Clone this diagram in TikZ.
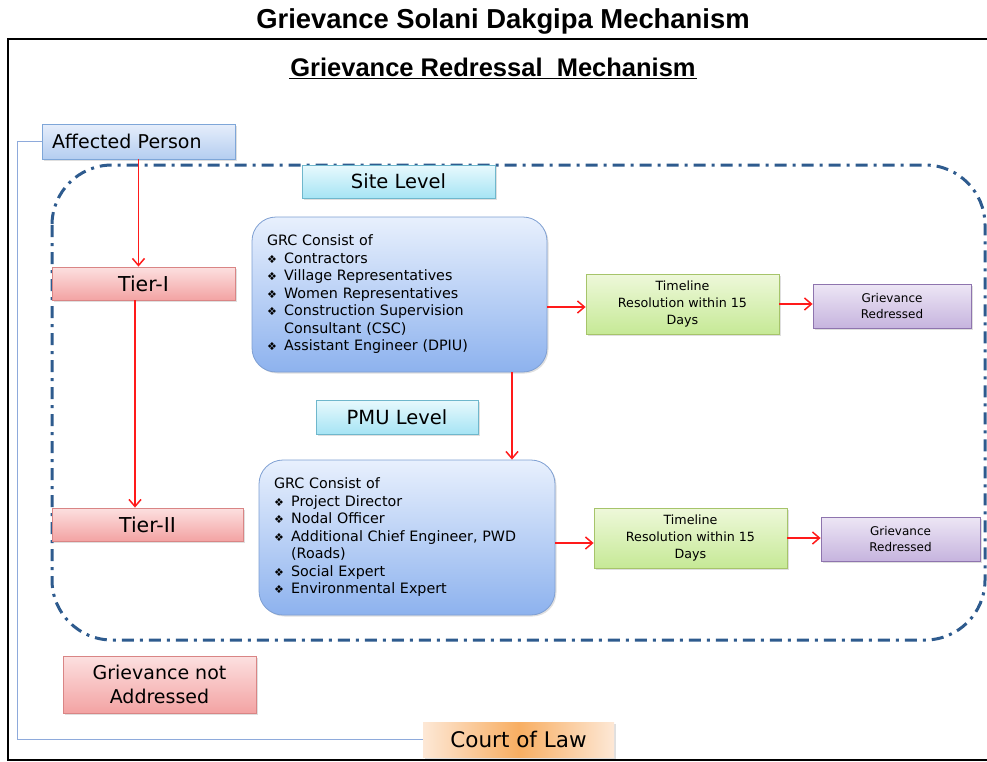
\documentclass[tikz,border=0pt]{standalone}
\usepackage{fontspec}
\setmainfont{DejaVu Sans}
\newfontfamily\headfont{Liberation Sans}
\usepackage{tikz}
\usetikzlibrary{arrows.meta,shadows}

\definecolor{zoneblue}{HTML}{2E5B8E}
\definecolor{linkblue}{HTML}{8EAADB}
\definecolor{apline}{HTML}{7EA6D8}
\definecolor{aptop}{HTML}{E6EEFB}
\definecolor{apbot}{HTML}{B4CDF0}
\definecolor{tierline}{HTML}{D98585}
\definecolor{tiertop}{HTML}{FCE0E0}
\definecolor{tierbot}{HTML}{F3A3A3}
\definecolor{levline}{HTML}{6FB7CC}
\definecolor{levtop}{HTML}{E8F9FD}
\definecolor{levbot}{HTML}{A6E4F4}
\definecolor{grcline}{HTML}{7E9FD2}
\definecolor{grctop}{HTML}{E8F0FD}
\definecolor{grcbot}{HTML}{8DB2EE}
\definecolor{timeline}{HTML}{A6C46A}
\definecolor{timetop}{HTML}{EEF8DA}
\definecolor{timebot}{HTML}{C6E996}
\definecolor{redline}{HTML}{8E74AE}
\definecolor{redtop}{HTML}{EDE6F5}
\definecolor{redbot}{HTML}{C6B4DE}
\definecolor{courtmid}{HTML}{F8AE62}
\definecolor{courtside}{HTML}{FDE8D6}
\definecolor{flowred}{HTML}{FF1A1A}

\newcommand{\bul}{\makebox[1.2em][l]{\fontsize{11}{11}\selectfont\char"2756}}

\tikzset{
  box/.style={draw, line width=0.8pt, inner sep=2pt, align=center,
    drop shadow={shadow xshift=1.5pt, shadow yshift=-1.5pt, opacity=0.25}},
  apbox/.style={box, draw=apline, top color=aptop, bottom color=apbot,
    font=\fontsize{19}{22}\selectfont},
  tierbox/.style={box, draw=tierline, top color=tiertop, bottom color=tierbot,
    font=\fontsize{20.5}{23}\selectfont},
  levelbox/.style={box, draw=levline, top color=levtop, bottom color=levbot,
    font=\fontsize{19.5}{22}\selectfont},
  grcbox/.style={box, draw=grcline, top color=grctop, bottom color=grcbot,
    rounded corners=24pt, align=left, inner xsep=15pt,
    minimum height=155pt, font=\fontsize{14.3}{17.5}\selectfont},
  timebox/.style={box, draw=timeline, top color=timetop, bottom color=timebot,
    minimum width=193pt, minimum height=60pt, font=\fontsize{12.7}{17}\selectfont},
  donebox/.style={box, draw=redline, top color=redtop, bottom color=redbot,
    minimum width=158pt, minimum height=44pt, font=\fontsize{12}{16}\selectfont},
  flow/.style={draw=flowred, line width=1.5pt, -{Straight Barb[length=7pt,width=12pt]}},
}

\begin{document}
\begin{tikzpicture}[x=1pt, y=-1pt]
  \useasboundingbox (0,0) rectangle (987,761);

  % titles and frame
  \node (title) at (503,21) {\headfont\bfseries\fontsize{27.4}{30}\selectfont Grievance Solani Dakgipa Mechanism};
  \draw[line width=2pt] (995,39) -- (8,39) -- (8,759.5) -- (995,759.5);
  \node[inner sep=1pt] (subtitle) at (493,67) {\headfont\bfseries\fontsize{25.5}{28}\selectfont Grievance Redressal\ \ Mechanism};
  \draw[line width=1.8pt] ([yshift=-1pt]subtitle.south west) -- ([yshift=-1pt]subtitle.south east);

  % dash-dot zone
  \draw[zoneblue, line width=3pt, rounded corners=60pt,
        dash pattern=on 12pt off 6pt on 3pt off 6pt] (52,165) rectangle (985,640);

  % left column
  \node[apbox, inner xsep=10pt, text width=173pt, align=left, minimum height=35pt] (ap) at (138.5,141.5) {Affected Person};
  \node[tierbox, minimum width=183pt, minimum height=33pt] (tierone) at (143.5,283.5) {Tier-I};
  \node[tierbox, minimum width=191pt, minimum height=33pt] (tiertwo) at (147.5,524.5) {Tier-II};
  \node[tierbox, minimum width=193pt, minimum height=57pt,
        font=\fontsize{19}{24}\selectfont] (notaddr) at (159.5,684.5) {Grievance not\\Addressed};
  \node[box, draw=none, left color=courtside, right color=courtside, middle color=courtmid,
        minimum width=191pt, minimum height=35pt,
        font=\fontsize{21.5}{24}\selectfont] (court) at (518.5,739.5) {Court of Law};

  % levels
  \node[levelbox, minimum width=193pt, minimum height=33pt] (site) at (398.5,181.5) {Site Level};
  \node[levelbox, minimum width=162pt, minimum height=34pt] (pmu) at (397,417) {PMU Level};

  % committees
  \node[grcbox, text width=265pt] (grcsite) at (399.5,294.5) {GRC Consist of\\
    \bul Contractors\\
    \bul Village Representatives\\
    \bul Women Representatives\\
    \bul Construction Supervision\\
    \hspace*{1.2em}Consultant (CSC)\\
    \bul Assistant Engineer (DPIU)};
  \node[grcbox, text width=266pt] (grcpmu) at (407,537.5) {GRC Consist of\\
    \bul Project Director\\
    \bul Nodal Officer\\
    \bul Additional Chief Engineer, PWD\\
    \hspace*{1.2em}(Roads)\\
    \bul Social Expert\\
    \bul Environmental Expert};

  % outcomes
  \node[timebox] (timesite) at (682.5,304) {Timeline\\Resolution within 15\\Days};
  \node[donebox] (redsite) at (892,306) {Grievance\\Redressed};
  \node[timebox] (timepmu) at (690.5,538) {Timeline\\Resolution within 15\\Days};
  \node[donebox, minimum width=159pt] (redpmu) at (900.5,539) {Grievance\\Redressed};

  % connectors
  \draw[linkblue, line width=1pt] (ap.west) -- ++(-24,0) |- (court.west);
  \draw[flow] (ap.south) -- (ap.south |- tierone.north);
  \draw[flow] ([xshift=-8.5pt]tierone.south) -- ([xshift=-8.5pt]tierone.south |- tiertwo.north);
  \draw[flow] ([yshift=-3pt]grcsite.east |- timesite.west) -- ([yshift=-3pt]timesite.west);
  \draw[flow] (timesite.east) -- (timesite.east -| redsite.west);
  \draw[flow] ([xshift=112.5pt]grcsite.south) -- ([xshift=112.5pt]grcsite.south |- grcpmu.north);
  \draw[flow] ([yshift=-5pt]grcpmu.east |- timepmu.west) -- ([yshift=-5pt]timepmu.west);
  \draw[flow] (timepmu.east) -- (timepmu.east -| redpmu.west);
\end{tikzpicture}
\end{document}
